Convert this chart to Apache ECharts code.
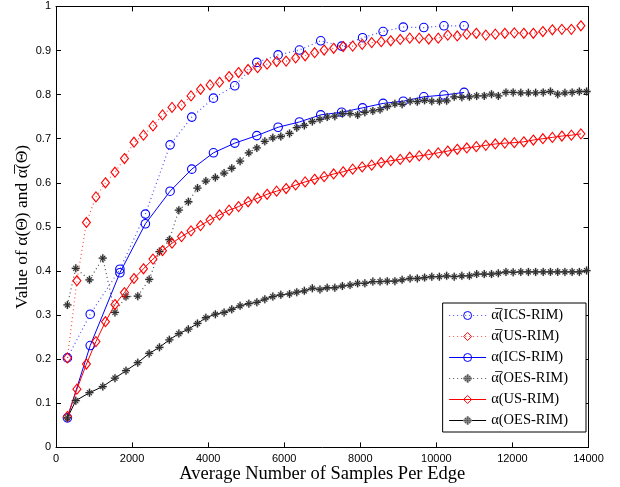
<!DOCTYPE html>
<html>
<head>
<meta charset="utf-8">
<script src="https://cdn.jsdelivr.net/npm/echarts@6/dist/echarts.min.js"></script>
<style>
html,body{margin:0;padding:0;background:#fff;}
#chart{width:620px;height:487px;}
</style>
</head>
<body>
<div id="chart"></div>
<script>
// ---- data ----
const xTicks = [0, 2000, 4000, 6000, 8000, 10000, 12000, 14000];
const yTicks = [0, 0.1, 0.2, 0.3, 0.4, 0.5, 0.6, 0.7, 0.8, 0.9, 1];

const seriesNames = ['α\u0305(ICS-RIM)', 'α\u0305(US-RIM)', 'α(ICS-RIM)', 'α\u0305(OES-RIM)', 'α(US-RIM)', 'α(OES-RIM)'];

const xICS = [300, 900, 1680, 2350, 3000, 3570, 4140, 4700, 5280, 5840, 6400, 6960, 7510, 8060, 8600, 9130, 9670, 10200, 10730];
const yICSbar = [0.203, 0.302, 0.404, 0.529, 0.686, 0.749, 0.792, 0.820, 0.873, 0.890, 0.901, 0.922, 0.910, 0.929, 0.943, 0.953, 0.952, 0.956, 0.956];
const yICS = [0.067, 0.231, 0.396, 0.507, 0.581, 0.631, 0.668, 0.690, 0.707, 0.726, 0.738, 0.754, 0.760, 0.770, 0.780, 0.785, 0.795, 0.799, 0.805];

const xUS = [300, 550, 800, 1050, 1300, 1550, 1800, 2050, 2300, 2550, 2800, 3050, 3300, 3550, 3800, 4050, 4300, 4550, 4800, 5050,
  5300, 5550, 5800, 6050, 6300, 6550, 6800, 7050, 7300, 7550, 7800, 8050, 8300, 8550, 8800, 9050, 9300, 9550, 9800, 10050,
  10300, 10550, 10800, 11050, 11300, 11550, 11800, 12050, 12300, 12550, 12800, 13050, 13300, 13550, 13800];
const yUSbar = [0.203, 0.378, 0.510, 0.568, 0.600, 0.624, 0.655, 0.692, 0.708, 0.729,
  0.754, 0.771, 0.776, 0.797, 0.812, 0.822, 0.828, 0.841, 0.850, 0.857,
  0.861, 0.869, 0.875, 0.876, 0.883, 0.888, 0.895, 0.901, 0.905, 0.909,
  0.910, 0.914, 0.918, 0.920, 0.922, 0.925, 0.928, 0.928, 0.926, 0.928,
  0.935, 0.933, 0.937, 0.939, 0.935, 0.937, 0.939, 0.940, 0.939, 0.939,
  0.943, 0.947, 0.948, 0.948, 0.956];
const yUS = [0.070, 0.132, 0.189, 0.240, 0.285, 0.324, 0.351, 0.383, 0.405, 0.427,
  0.446, 0.463, 0.478, 0.491, 0.503, 0.516, 0.527, 0.538, 0.546, 0.557,
  0.565, 0.574, 0.581, 0.587, 0.595, 0.602, 0.608, 0.614, 0.620, 0.625,
  0.631, 0.636, 0.640, 0.646, 0.650, 0.653, 0.658, 0.661, 0.664, 0.668,
  0.672, 0.676, 0.679, 0.682, 0.685, 0.688, 0.690, 0.691, 0.693, 0.697,
  0.700, 0.703, 0.706, 0.708, 0.711];

const xOES = [300, 520, 880, 1230, 1550, 1840, 2150, 2450, 2720, 2980, 3230, 3480, 3720, 3940, 4190, 4420, 4620, 4840, 5070, 5280,
  5490, 5700, 5910, 6140, 6330, 6530, 6740, 6940, 7130, 7330, 7530, 7730, 7930, 8120, 8330, 8520, 8710, 8910, 9100, 9310,
  9500, 9690, 9880, 10080, 10270, 10470, 10670, 10870, 11060, 11260, 11450, 11630, 11830, 12020, 12220, 12420, 12610, 12810, 13000, 13190,
  13380, 13570, 13760, 13950];
const yOESbar = [0.323, 0.406, 0.380, 0.429, 0.306, 0.342, 0.343, 0.381, 0.444, 0.471,
  0.538, 0.557, 0.588, 0.604, 0.612, 0.622, 0.633, 0.649, 0.668, 0.679,
  0.694, 0.702, 0.705, 0.712, 0.725, 0.730, 0.739, 0.744, 0.749, 0.751,
  0.757, 0.757, 0.754, 0.760, 0.763, 0.766, 0.773, 0.779, 0.778, 0.785,
  0.784, 0.787, 0.785, 0.785, 0.786, 0.795, 0.794, 0.795, 0.797, 0.797,
  0.801, 0.797, 0.805, 0.805, 0.804, 0.804, 0.804, 0.805, 0.807, 0.801,
  0.804, 0.805, 0.807, 0.807];
const yOES = [0.067, 0.106, 0.124, 0.138, 0.157, 0.174, 0.192, 0.213, 0.227, 0.244,
  0.258, 0.268, 0.281, 0.294, 0.302, 0.306, 0.313, 0.321, 0.326, 0.329,
  0.336, 0.342, 0.346, 0.348, 0.352, 0.355, 0.361, 0.358, 0.362, 0.362,
  0.366, 0.368, 0.372, 0.372, 0.376, 0.376, 0.377, 0.377, 0.380, 0.383,
  0.383, 0.385, 0.387, 0.387, 0.389, 0.387, 0.389, 0.389, 0.393, 0.393,
  0.393, 0.395, 0.398, 0.397, 0.398, 0.398, 0.398, 0.398, 0.398, 0.398,
  0.398, 0.398, 0.398, 0.401];

// ---- chart ----
const pair = (xs, ys) => xs.map((x, i) => [x, ys[i]]);
const BLUE = '#0000ff', RED = '#ff0000', BLACK = '#000000';
const STAR = 'path://M4.2,0 L5.8,0 L5.8,4.2 L10,4.2 L10,5.8 L5.8,5.8 L5.8,10 L4.2,10 L4.2,5.8 L0,5.8 L0,4.2 L4.2,4.2 Z M1.5,2.4 L2.4,1.5 L5,4.1 L7.6,1.5 L8.5,2.4 L5.9,5 L8.5,7.6 L7.6,8.5 L5,5.9 L2.4,8.5 L1.5,7.6 L4.1,5 Z';
const SERIF = '"Liberation Serif", "DejaVu Serif", serif';
const SANS = '"Liberation Sans", Arial, sans-serif';

function mk(name, data, color, dotted, symbol, size, hollow) {
  return {
    name: name, type: 'line', data: data,
    symbol: symbol, symbolSize: size, showSymbol: true,
    lineStyle: { color: color, width: dotted ? 1.2 : 1, type: dotted ? [1, 3] : 'solid', opacity: dotted ? 0.7 : 1 },
    itemStyle: hollow ? { color: 'rgba(0,0,0,0)', borderColor: color, borderWidth: 1.1 }
                      : { color: '#111', borderColor: '#888', borderWidth: 0.3 },
    emphasis: { disabled: true },
    animation: false, z: 3
  };
}

const chart = echarts.init(document.getElementById('chart'), null, { renderer: 'canvas' });
const axisCommon = {
  type: 'value', splitLine: { show: false },
  axisLine: { show: true, onZero: false, lineStyle: { color: '#000', width: 1 } },
  axisTick: { show: true, inside: true, length: 5, lineStyle: { color: '#000' } }
};
chart.setOption({
  backgroundColor: '#fff',
  animation: false,
  grid: { left: 56, right: 31.5, top: 6.4, bottom: 39.6, containLabel: false, outerBoundsMode: 'none' },
  xAxis: [
    Object.assign({}, axisCommon, {
      min: xTicks[0], max: xTicks[xTicks.length - 1], interval: 2000, position: 'bottom',
      axisLabel: { color: '#000', fontSize: 11, fontFamily: SANS, margin: 6, formatter: v => String(v) },
      name: 'Average Number of Samples Per Edge', nameLocation: 'middle', nameGap: 17, nameMoveOverlap: false,
      nameTextStyle: { color: '#000', fontSize: 18.5, fontFamily: SERIF, verticalAlign: 'top' }
    }),
    Object.assign({}, axisCommon, {
      min: xTicks[0], max: xTicks[xTicks.length - 1], interval: 2000, position: 'top',
      axisLabel: { show: false }
    })
  ],
  yAxis: [
    Object.assign({}, axisCommon, {
      min: yTicks[0], max: yTicks[yTicks.length - 1], interval: 0.1, position: 'left',
      axisLabel: { color: '#000', fontSize: 11, fontFamily: SANS, margin: 5 },
      name: 'Value of α(Θ) and α\u0305(Θ)', nameLocation: 'middle', nameGap: 25, nameRotate: 90, nameMoveOverlap: false,
      nameTextStyle: { color: '#000', fontSize: 17.5, fontFamily: SERIF }
    }),
    Object.assign({}, axisCommon, {
      min: yTicks[0], max: yTicks[yTicks.length - 1], interval: 0.1, position: 'right',
      axisLabel: { show: false }
    })
  ],
  legend: {
    orient: 'vertical', right: 34, bottom: 55,
    backgroundColor: '#fff', borderColor: '#000', borderWidth: 1,
    padding: [5, 18, 4, 6], itemGap: 6, itemWidth: 37, itemHeight: 10,
    textStyle: { color: '#000', fontSize: 14.5, fontFamily: SERIF },
    itemStyle: { borderWidth: 1 },
    lineStyle: { width: 1 },
    data: seriesNames
  },
  series: [
    mk(seriesNames[0], pair(xICS, yICSbar), BLUE, true, 'circle', 8.5, true),
    mk(seriesNames[1], pair(xUS, yUSbar), RED, true, 'diamond', [8, 10], true),
    mk(seriesNames[2], pair(xICS, yICS), BLUE, false, 'circle', 8.5, true),
    mk(seriesNames[3], pair(xOES, yOESbar), BLACK, true, STAR, 8, false),
    mk(seriesNames[4], pair(xUS, yUS), RED, false, 'diamond', [8, 10], true),
    mk(seriesNames[5], pair(xOES, yOES), BLACK, false, STAR, 8, false)
  ]
});
</script>
</body>
</html>
